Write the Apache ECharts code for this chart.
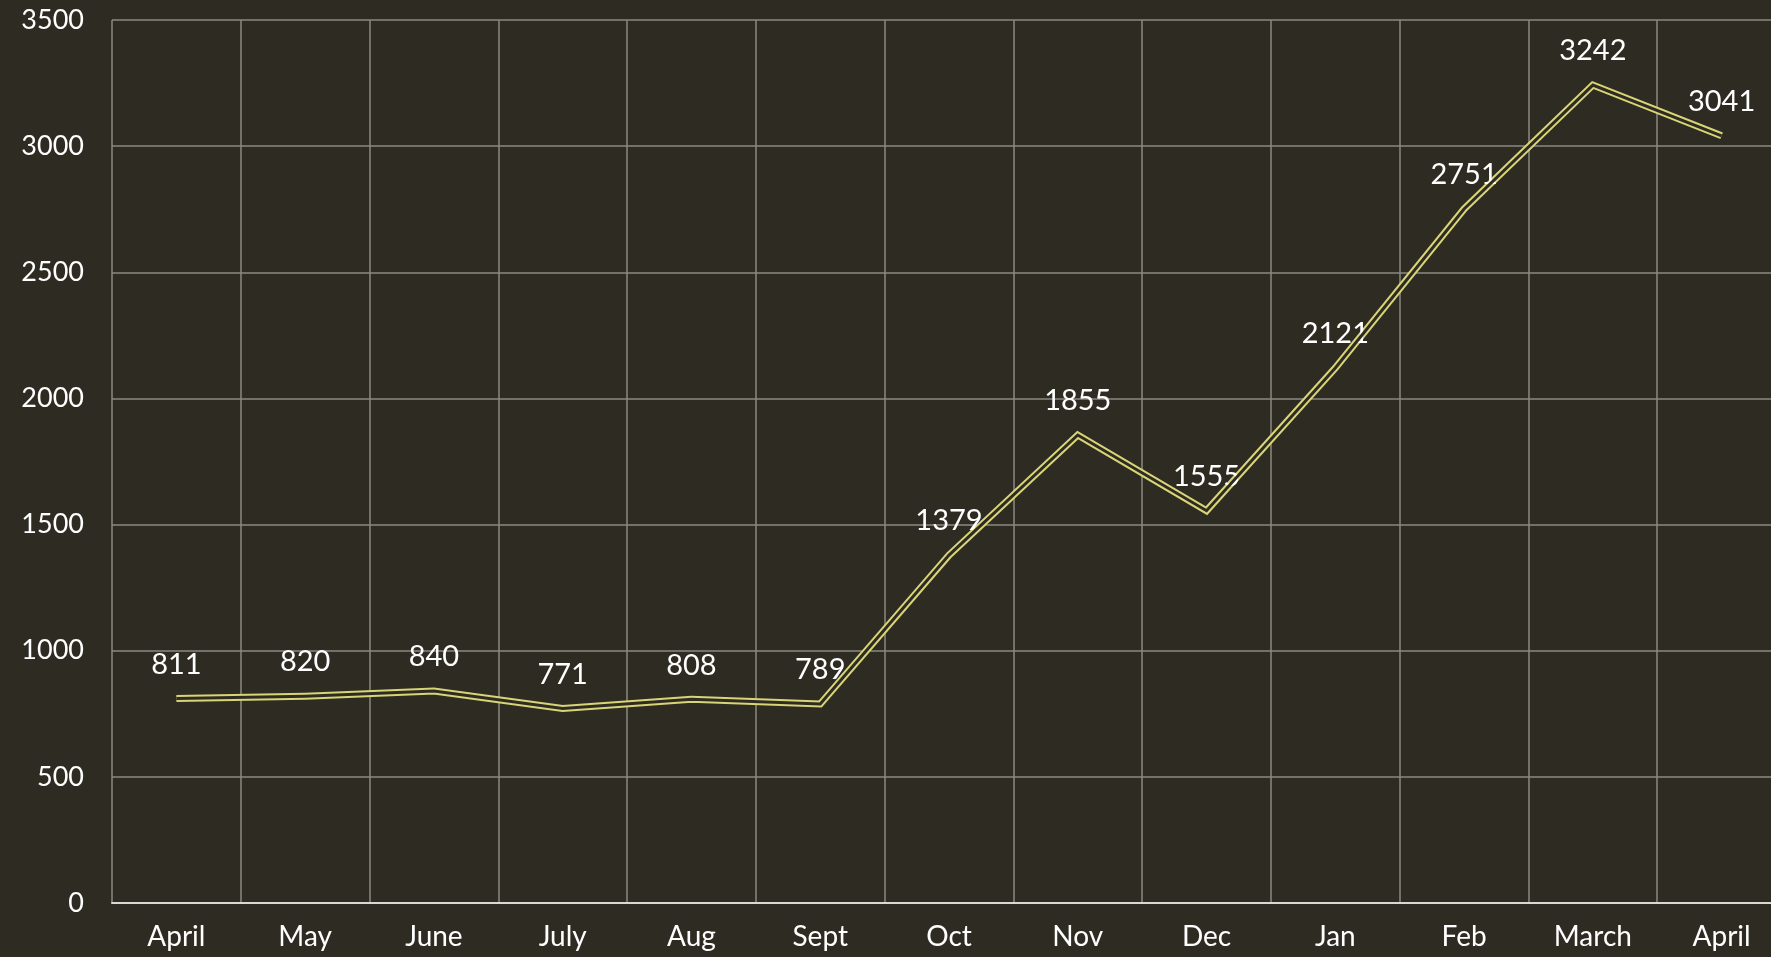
<!DOCTYPE html>
<html>
<head>
<meta charset="utf-8">
<script src="https://cdn.jsdelivr.net/npm/echarts@6/dist/echarts.min.js"></script>
<style>
  html, body { margin: 0; padding: 0; background: #2e2c22; overflow: hidden; }
  #chart { width: 1790px; height: 957px; }
</style>
</head>
<body>
<div id="chart"></div>
<script>
// months on the x axis
var months = ['April', 'May', 'June', 'July', 'Aug', 'Sept', 'Oct', 'Nov', 'Dec', 'Jan', 'Feb', 'March', 'April']
// monthly values
var values = [811, 820, 840, 771, 808, 789, 1379, 1855, 1555, 2121, 2751, 3242, 3041]
// y axis range
var yMin = 0
var yMax = 3500
var yStep = 500

var bg = '#2e2c22'
var lineColor = '#d8d477'
var gridColor = '#8c8a80'
var fontFamily = 'Lato, "Open Sans", sans-serif'

var chart = echarts.init(document.getElementById('chart'))
chart.setOption({
  backgroundColor: bg,
  animation: false,
  textStyle: { fontFamily: fontFamily },
  // plot runs past the right edge of the window like in the original
  grid: { left: 112, top: 20, width: 1674, height: 883, containLabel: false },
  xAxis: {
    type: 'category',
    data: months,
    boundaryGap: true,
    axisLine: { show: true, lineStyle: { color: '#d9d8d2', width: 2 } },
    axisTick: { show: false },
    splitLine: { show: true, lineStyle: { color: gridColor, width: 1.5 } },
    axisLabel: { color: '#ffffff', fontSize: 28, margin: 20, fontFamily: fontFamily }
  },
  yAxis: {
    type: 'value',
    min: yMin,
    max: yMax,
    interval: yStep,
    axisLine: { show: false },
    axisTick: { show: false },
    splitLine: { show: true, lineStyle: { color: gridColor, width: 1.5 } },
    axisLabel: {
      color: '#ffffff',
      fontSize: 27,
      margin: 28,
      fontFamily: fontFamily,
      formatter: function(v) { return String(v) }
    }
  },
  series: [
    {
      // outer yellow stroke, carries the value labels
      type: 'line',
      data: values,
      symbol: 'circle',
      symbolSize: 1,
      itemStyle: { color: 'rgba(0,0,0,0)' },
      lineStyle: { color: lineColor, width: 7, join: 'miter' },
      label: {
        show: true,
        position: 'top',
        distance: 19,
        color: '#ffffff',
        fontSize: 29,
        fontFamily: fontFamily
      },
      labelLayout: { hideOverlap: false },
      z: 3
    },
    {
      // dark centre to get the double line look
      type: 'line',
      data: values,
      symbol: 'none',
      lineStyle: { color: bg, width: 3, join: 'miter' },
      z: 4
    }
  ]
})
</script>
</body>
</html>
